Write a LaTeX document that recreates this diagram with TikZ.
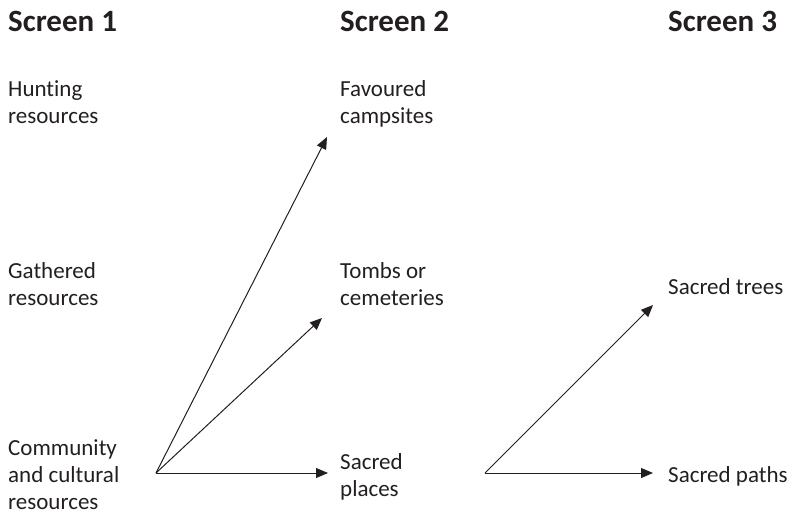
\documentclass[tikz,border=0pt]{standalone}
\usepackage{fontspec}
\setmainfont[Ligatures={NoCommon}]{Carlito}
\usetikzlibrary{arrows.meta}
\definecolor{ink}{HTML}{231F20}
\tikzset{
  title/.style={anchor=base west, inner sep=0pt, text=ink, font=\fontsize{31}{36}\selectfont\bfseries},
  label/.style={anchor=base west, inner sep=0pt, text=ink, align=left, font=\fontsize{23}{27}\selectfont},
  conn/.style={draw=ink, line width=1pt, -{Triangle[length=12pt,width=10pt]}}
}
\begin{document}
\begin{tikzpicture}[x=1pt,y=-1pt]
\useasboundingbox (0,0) rectangle (794,516);
\node[title] (s1) at (8,32) {Screen 1};
\node[title] (s2) at (340,32) {Screen 2};
\node[title] (s3) at (668,32) {Screen 3};
\node[label] (hunt) at (8,123) {Hunting\\resources};
\node[label] (gath) at (8,305) {Gathered\\resources};
\node[label] (comm) at (8,509) {Community\\and cultural\\resources};
\node[label] (camp) at (340,123) {Favoured\\campsites};
\node[label] (tomb) at (340,305) {Tombs or\\cemeteries};
\node[label] (places) at (340,496) {Sacred\\places};
\node[label] (trees) at (668,294) {Sacred trees};
\node[label] (paths) at (668,482) {Sacred paths};
\coordinate (o1) at (156,473);
\coordinate (o2) at (485,473);
\coordinate (t1) at (327,137);
\coordinate (t2) at (322,318);
\coordinate (t3) at (328,473);
\coordinate (t4) at (653,305);
\coordinate (t5) at (653,473);
\draw[conn] (o1) -- (t1);
\draw[conn] (o1) -- (t2);
\draw[conn] (o1) -- (t3);
\draw[conn] (o2) -- (t4);
\draw[conn] (o2) -- (t5);
\end{tikzpicture}
\end{document}
